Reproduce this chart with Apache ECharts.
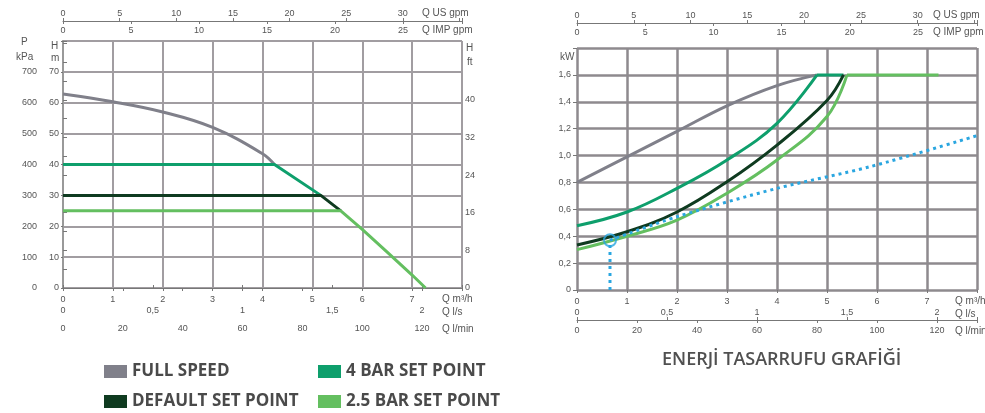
<!DOCTYPE html>
<html><head><meta charset="utf-8">
<script src="https://cdn.jsdelivr.net/npm/echarts@6/dist/echarts.min.js"></script>
<style>html,body{margin:0;padding:0;background:#fff}#c{width:985px;height:413px}</style>
</head><body><div id="c"></div><script>
// ---- data (flow in m3/h) ----
const seriesNames = ['FULL SPEED', '4 BAR SET POINT', 'DEFAULT SET POINT', '2.5 BAR SET POINT'];
// left chart: head H (m) vs flow Q (m3/h)
const headFullSpeed = [[0, 62.8], [1, 60.3], [2, 57], [3, 52], [4, 43.5], [4.24, 40]];
const head4Bar = [[0, 40], [4.24, 40], [5.17, 30]];
const headDefault = [[0, 30], [5.17, 30], [5.57, 25]];
const head25Bar = [[0, 25], [5.57, 25], [6, 19], [6.5, 11.6], [7, 4.2], [7.27, 0]];
// right chart: power (kW) vs flow Q (m3/h)
const powerFullSpeed = [[0, 0.8], [1, 0.99], [2, 1.18], [3, 1.37], [4, 1.52], [4.8, 1.6]];
const power4Bar = [[0, 0.478], [1, 0.58], [2, 0.756], [3, 0.967], [4, 1.24], [4.8, 1.6]];
const power4BarFlat = [[4.8, 1.6], [5.33, 1.6]];
const powerDefault = [[0, 0.335], [1, 0.433], [2, 0.58], [3, 0.805], [4, 1.078], [5, 1.41], [5.33, 1.6]];
const power25Bar = [[0, 0.3], [1, 0.4], [2, 0.52], [3, 0.72], [4, 0.967], [5, 1.29], [5.4, 1.6]];
const power25BarFlat = [[5.4, 1.6], [7.23, 1.6]];
const savingLine = [[0.66, 0.37], [2, 0.545], [4, 0.756], [5.86, 0.917], [8.2, 1.17]];
const savingDrop = [[0.66, 0], [0.66, 0.34]];
const savingPoint = [[0.66, 0.37]];
// axis ranges / tick labels
const flowMax = 8;               // m3/h
const headMax = 80;              // m
const pressureMax = 800;         // kPa
const powerMax = 1.8;            // kW
const ftLabels = [0, 8, 16, 24, 32, 40];
const m3hPerLs = 3.6, m3hPerLmin = 0.06, m3hPerUsGpm = 0.2271247, m3hPerImpGpm = 0.2727655;
const mPerFtLabelUnit = 1.524;

const colors = { 'FULL SPEED': '#80808a', '4 BAR SET POINT': '#0e9f6c', 'DEFAULT SET POINT': '#0f3b20', '2.5 BAR SET POINT': '#64bf60' };
const txt = '#555';
const lab = { fontSize: 9, color: txt, fontFamily: 'Liberation Sans' };
const isMult = (v, s) => Math.abs(v / s - Math.round(v / s)) < 1e-6;
const comma = v => String(+v.toFixed(2)).replace('.', ',');

function flowAxes(g, topOff, gridColor, gridW) {
  return [
    { type: 'value', gridIndex: g, min: 0, max: flowMax, interval: 1, position: 'bottom',
      axisLine: { show: false }, axisTick: { show: true, length: 3, lineStyle: { color: '#777' } },
      axisLabel: Object.assign({ margin: 7, formatter: v => v < 7.5 ? String(v) : '' }, lab),
      splitLine: { show: true, lineStyle: { color: gridColor, width: gridW } } },
    { type: 'value', gridIndex: g, min: 0, max: flowMax / m3hPerLs, interval: 0.5, position: 'bottom', offset: 30,
      axisLine: { show: true, lineStyle: { color: '#777', width: 1 } },
      axisTick: { show: true, inside: true, length: 3, lineStyle: { color: '#777' } },
      axisLabel: Object.assign({ inside: true, margin: 3, formatter: v => (isMult(v, 0.5) && v < 2.1) ? comma(v) : '' }, lab),
      splitLine: { show: false } },
    { type: 'value', gridIndex: g, min: 0, max: flowMax / m3hPerLmin, interval: 20, position: 'bottom', offset: 30,
      axisLine: { show: false }, axisTick: { show: true, length: 3, lineStyle: { color: '#777' } },
      axisLabel: Object.assign({ margin: 6, formatter: v => (isMult(v, 20) && v < 125) ? String(Math.round(v)) : '' }, lab),
      splitLine: { show: false } },
    { type: 'value', gridIndex: g, min: 0, max: flowMax / m3hPerUsGpm, interval: 5, position: 'top', offset: topOff,
      axisLine: { show: true, lineStyle: { color: '#777', width: 1 } },
      axisTick: { show: true, length: 3, lineStyle: { color: '#777' } },
      axisLabel: Object.assign({ margin: 3, formatter: v => (isMult(v, 5) && v < 31) ? String(Math.round(v)) : '' }, lab),
      splitLine: { show: false } },
    { type: 'value', gridIndex: g, min: 0, max: flowMax / m3hPerImpGpm, interval: 5, position: 'top', offset: topOff,
      axisLine: { show: false }, axisTick: { show: true, inside: true, length: 3, lineStyle: { color: '#777' } },
      axisLabel: Object.assign({ inside: true, margin: 5, formatter: v => (isMult(v, 5) && v < 26) ? String(Math.round(v)) : '' }, lab),
      splitLine: { show: false } }
  ];
}

const xAxis = flowAxes(0, 20, '#a19da1', 2).concat(flowAxes(1, 25, '#8e8a8e', 2.5));
const yAxis = [
  { type: 'value', gridIndex: 0, min: 0, max: headMax, interval: 10, position: 'left',
    axisLine: { show: false }, axisTick: { show: true, length: 2, lineStyle: { color: '#777' } },
    axisLabel: Object.assign({ margin: 4, formatter: v => v < headMax ? String(v) : '' }, lab),
    splitLine: { show: true, lineStyle: { color: '#a19da1', width: 2 } } },
  { type: 'value', gridIndex: 0, min: 0, max: pressureMax, interval: 100, position: 'left', offset: 23,
    axisLine: { show: true, lineStyle: { color: '#888', width: 1.5 } },
    axisTick: { show: true, length: 2, lineStyle: { color: '#777' } },
    axisLabel: Object.assign({ margin: 3, formatter: v => v < pressureMax ? String(v) : '' }, lab),
    splitLine: { show: false } },
  { type: 'value', gridIndex: 0, min: 0, max: headMax / mPerFtLabelUnit, interval: 4, position: 'right',
    axisLine: { show: true, lineStyle: { color: '#999', width: 2 } },
    axisTick: { show: true, length: 4, lineStyle: { color: '#777' } },
    axisLabel: Object.assign({ margin: 3, formatter: v => ftLabels.includes(Math.round(v)) && isMult(v, 8) ? String(Math.round(v)) : '' }, lab),
    splitLine: { show: false } },
  { type: 'value', gridIndex: 1, min: 0, max: powerMax, interval: 0.2, position: 'left',
    axisLine: { show: false }, axisTick: { show: true, length: 4, lineStyle: { color: '#777' } },
    axisLabel: Object.assign({ margin: 6, formatter: v => v < 1.7 ? (v < 0.01 ? '0' : v.toFixed(1).replace('.', ',')) : '' }, lab),
    splitLine: { show: true, lineStyle: { color: '#8e8a8e', width: 2.5 } } }
];

function curve(name, data, xi, yi, smooth) {
  return { name, type: 'line', data, xAxisIndex: xi, yAxisIndex: yi, symbol: 'none', smooth: smooth || false,
    lineStyle: { color: colors[name], width: 3 }, itemStyle: { color: colors[name] }, z: 3 };
}
const series = [
  curve('FULL SPEED', headFullSpeed, 0, 0, 0.4),
  curve('4 BAR SET POINT', head4Bar, 0, 0),
  curve('DEFAULT SET POINT', headDefault, 0, 0),
  curve('2.5 BAR SET POINT', head25Bar, 0, 0),
  curve('FULL SPEED', powerFullSpeed, 5, 3, 0.4),
  curve('4 BAR SET POINT', power4Bar, 5, 3, 0.4),
  curve('4 BAR SET POINT', power4BarFlat, 5, 3),
  curve('DEFAULT SET POINT', powerDefault, 5, 3, 0.4),
  curve('2.5 BAR SET POINT', power25Bar, 5, 3, 0.4),
  curve('2.5 BAR SET POINT', power25BarFlat, 5, 3),
  { name: 'saving', type: 'line', data: savingLine, xAxisIndex: 5, yAxisIndex: 3, symbol: 'none', clip: false, smooth: 0.3,
    lineStyle: { color: '#2aa6e0', width: 3, type: [3, 4] }, z: 4 },
  { name: 'saving2', type: 'line', data: savingDrop, xAxisIndex: 5, yAxisIndex: 3, symbol: 'none',
    lineStyle: { color: '#2aa6e0', width: 3, type: [3, 4] }, z: 4 },
  { name: 'saving3', type: 'scatter', data: savingPoint, xAxisIndex: 5, yAxisIndex: 3, symbol: 'circle', symbolSize: 12,
    itemStyle: { color: 'rgba(255,255,255,0)', borderColor: '#2aa6e0', borderWidth: 2 }, z: 5 }
];

const unitText = (x, y, t, align) => ({ type: 'text', left: x, top: y - 6, style: { text: t, fontSize: 10, fill: txt, fontFamily: 'Liberation Sans Narrow, Liberation Sans', align: align || 'left' } });
const graphic = [
  unitText(422, 14, 'Q US gpm'), unitText(422, 31, 'Q IMP gpm'),
  unitText(442, 300, 'Q m³/h'), unitText(442, 313, 'Q l/s'), unitText(442, 330, 'Q l/min'),
  unitText(933, 16, 'Q US gpm'), unitText(933, 33, 'Q IMP gpm'),
  unitText(955, 302, 'Q m³/h'), unitText(955, 315, 'Q l/s'), unitText(955, 332, 'Q l/min'),
  unitText(21, 43, 'P'), unitText(16, 58, 'kPa'), unitText(51, 47, 'H'), unitText(51, 59, 'm'),
  unitText(466, 49, 'H'), unitText(467, 63, 'ft'), unitText(560, 58, 'kW')
];

const legendBase = { orient: 'vertical', icon: 'rect', itemWidth: 23, itemHeight: 13, itemGap: 13, padding: 0,
  selectedMode: false, textStyle: { fontSize: 17, fontWeight: 'bold', color: '#4a4a4a', fontFamily: 'Open Sans' } };

const chart = echarts.init(document.getElementById('c'), null, { renderer: 'canvas' });
chart.setOption({
  animation: false,
  backgroundColor: '#fff',
  color: seriesNames.map(n => colors[n]),
  title: { text: 'ENERJİ TASARRUFU GRAFİĞİ', left: 662, top: 351, padding: 0,
    textStyle: { fontSize: 18, fontWeight: 600, color: '#505050', fontFamily: 'Open Sans' } },
  legend: [
    Object.assign({ data: ['FULL SPEED', 'DEFAULT SET POINT'], left: 104, top: 363 }, legendBase),
    Object.assign({ data: ['4 BAR SET POINT', '2.5 BAR SET POINT'], left: 318, top: 363 }, legendBase)
  ],
  grid: [
    { left: 63, right: 523, top: 41, bottom: 125 },
    { left: 577, right: 8, top: 48, bottom: 123 }
  ],
  xAxis, yAxis, series, graphic
});
</script></body></html>
